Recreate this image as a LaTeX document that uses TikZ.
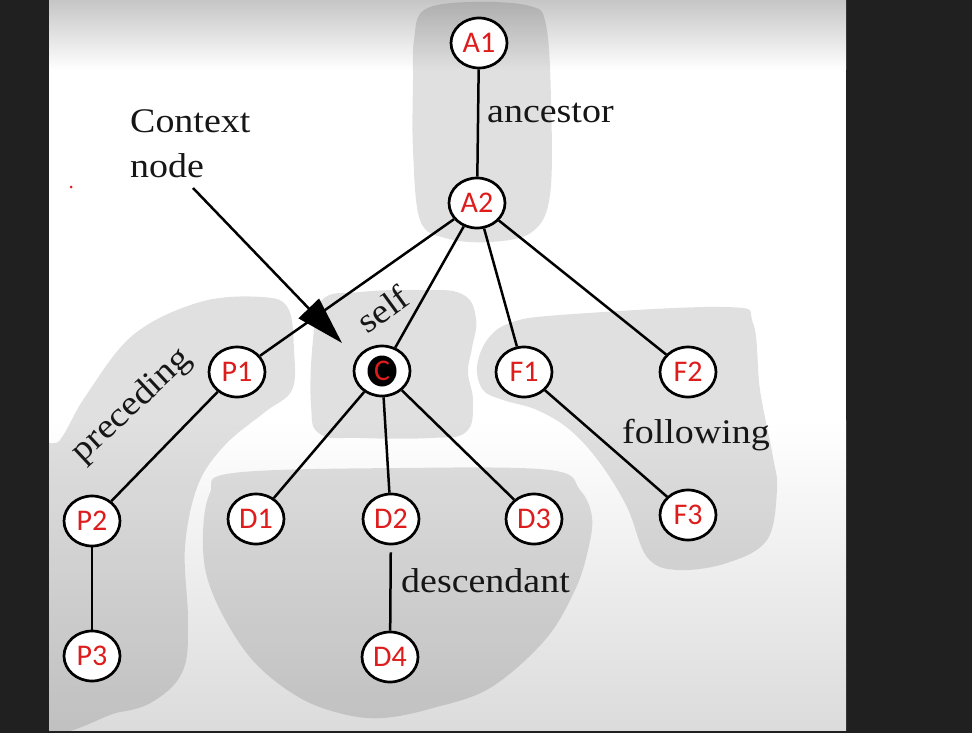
\documentclass[tikz,border=0pt]{standalone}
\usepackage{fontspec}
\setmainfont{Liberation Serif}
\newfontfamily\labfont{Carlito}
\usetikzlibrary{shapes.geometric,arrows.meta}
\definecolor{bgdark}{RGB}{32,32,32}
\definecolor{labred}{RGB}{222,28,28}
\definecolor{ink}{RGB}{22,22,22}
\begin{document}
\begin{tikzpicture}[x=1pt,y=-1pt,
  tnode/.style={ellipse, draw=black, line width=2.7pt, fill=white,
    minimum width=56pt, minimum height=50pt, inner sep=0pt,
    font=\labfont\fontsize{30}{30}\selectfont, text=labred},
  edge/.style={line width=2.5pt, draw=black},
  word/.style={font=\fontsize{34.5}{36}\selectfont, text=ink, inner sep=0pt},
  blob/.style={fill=black, fill opacity=0.12}]
\useasboundingbox (0,0) rectangle (972,733);
% backdrop
\fill[bgdark] (0,0) rectangle (972,733);
\fill[white] (49,0) rectangle (846,730);
\shade[top color=gray!45, bottom color=white] (49,0) rectangle (846,70);
\shade[top color=white, bottom color=gray!28] (49,420) rectangle (846,730);
% regions
\begin{scope}
\clip (49,0) rectangle (846,730);
\fill[blob] plot[smooth cycle, tension=0.6] coordinates {
  (414,40) (424,10) (470,2) (530,6) (546,25) (551,100) (550,195) (532,232)
  (490,242) (445,238) (420,220) (413,150) (413,80)};
\fill[blob] plot[smooth cycle, tension=0.7] coordinates {
  (322,300) (360,292) (420,290) (462,294) (476,318) (472,348) (468,372)
  (473,402) (466,432) (430,438) (360,438) (320,434) (311,405) (313,340)};
\fill[blob] plot[smooth cycle, tension=0.6] coordinates {
  (30,470) (60,440) (85,397) (133,335) (200,302) (262,297) (288,308)
  (294,350) (292,390) (265,412) (225,445) (198,485) (185,547) (188,620)
  (184,668) (160,697) (120,712) (30,716)};
\fill[blob] plot[smooth cycle, tension=0.6] coordinates {
  (210,493) (233,473) (400,468) (550,470) (580,490) (592,517) (588,550)
  (575,590) (545,640) (490,688) (433,708) (383,718) (343,714) (300,698)
  (257,665) (227,623) (207,577) (203,533)};
\fill[blob] plot[smooth cycle, tension=0.6] coordinates {
  (487,340) (510,323) (560,315) (727,307) (753,323) (760,390) (773,457)
  (777,490) (767,540) (727,563) (677,570) (647,557) (627,507) (600,463)
  (570,430) (537,410) (503,400) (483,390) (477,367)};
\end{scope}
\fill[labred] (71,187) circle (1.5);
% tree nodes
\node[tnode] (A1) at (479,43) {A1};
\node[tnode] (A2) at (477,203) {A2};
\node[tnode] (P1) at (237,372) {P1};
\node[tnode] (C)  at (382,371) {};
\node[ellipse, fill=black, minimum width=29pt, minimum height=31pt, inner sep=0pt,
  font=\labfont\fontsize{30}{30}\selectfont, text=labred] (Cin) at (C) {C};
\node[tnode] (F1) at (524,372) {F1};
\node[tnode] (F2) at (688,372) {F2};
\node[tnode] (P2) at (92,521) {P2};
\node[tnode] (P3) at (92,656) {P3};
\node[tnode] (D1) at (256,519) {D1};
\node[tnode] (D2) at (391,519) {D2};
\node[tnode] (D3) at (534,519) {D3};
\node[tnode] (F3) at (688,515) {F3};
\node[tnode] (D4) at (390,657) {D4};
% connectors
\draw[edge] (A1) -- (A2);
\draw[edge] (A2) -- (P1);
\draw[edge] (A2) -- (C);
\draw[edge] (A2) -- (F1);
\draw[edge] (A2) -- (F2);
\draw[edge] (P1) -- (P2);
\draw[edge] (P2) -- (P3);
\draw[edge] (C) -- (D1);
\draw[edge] (C) -- (D2);
\draw[edge] (C) -- (D3);
\draw[edge] (F1) -- (F3);
\draw[edge, shorten <=7pt] (D2) -- (D4);
% labels
\node[word, anchor=base west] (ctx) at (130,133) {\scalebox{1.1}[1]{Context}};
\node[word, anchor=base west] (ctxnode) at (130,177) {\scalebox{1.1}[1]{node}};
\node[word, anchor=base west] (anc) at (487,123) {\scalebox{1.1}[1]{ancestor}};
\node[word, anchor=base west] (fol) at (622,443) {\scalebox{1.1}[1]{following}};
\node[word, anchor=base west] (des) at (401,592) {\scalebox{1.1}[1]{descendant}};
\node[word, rotate=36] (slf) at (383,309) {\scalebox{1.1}[1]{self}};
\node[word, rotate=43] (pre) at (132,406) {\scalebox{1.1}[1]{preceding}};
% context arrow
\coordinate (ctxstart) at (193,188);
\coordinate (ctxtip) at (342,343);
\draw[line width=2.5pt, -{Triangle[length=48pt,width=28pt]}] (ctxstart) -- (ctxtip);
\end{tikzpicture}
\end{document}
